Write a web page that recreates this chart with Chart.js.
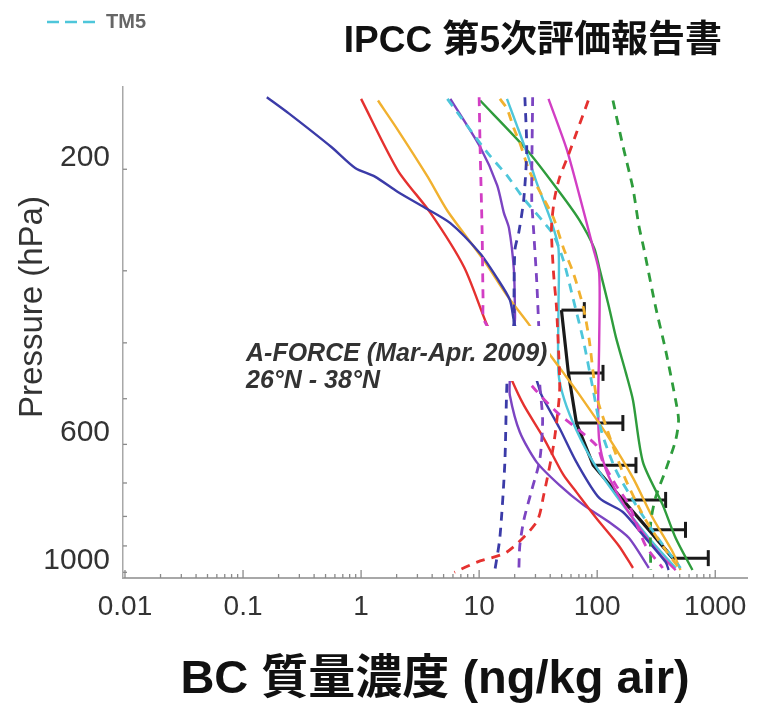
<!DOCTYPE html>
<html><head><meta charset="utf-8">
<script src="https://cdn.jsdelivr.net/npm/chart.js@4"></script>
<style>html,body{margin:0;padding:0;background:#fff}canvas{display:block}</style>
</head><body>
<canvas id="c" width="758" height="704"></canvas>
<script>
// ---- axis ticks ----
const xTickValues = [0.01, 0.1, 1, 10, 100, 1000];
const xTickLabels = ['0.01', '0.1', '1', '10', '100', '1000'];
const pTickValues = [200, 300, 400, 500, 600, 700, 800, 900, 1000];
const pLabelValues = [200, 600, 1000];

// ---- texts ----
const chartTitle = 'IPCC 第5次評価報告書';
const xTitle = 'BC 質量濃度 (ng/kg air)';
const yTitle = 'Pressure (hPa)';
const annotLine1 = 'A-FORCE (Mar-Apr. 2009)';
const annotLine2 = '26°N - 38°N';
const legendLabel = 'TM5';

// ---- model profiles: BC (ng/kg) vs pressure (hPa) ----
const blueX = [0.159,0.244,0.56,0.891,1.31,2.05,3.45,5.7,10.2,14.2,18.2,20.1,25.3,30.7,33.8,47.9,66.7,104,165,244,380,403];
const blueP = [150,160,183,199,206,219,233,248,280,309,337,373,415,464,493,562,644,743,786,862,960,991];

const redX = [1.0,2.05,3.87,7.48,11.7,15.6,18.9,23.9,35.2,51.8,66.7,98.1,153,201];
const redP = [151,201,238,296,373,420,464,513,585,678,726,805,900,983];

const orangeX = [1.39,2.05,3.66,5.38,11.0,17.2,26.8,37.3,51.8,69.2,126,201,296,436,508];
const orangeP = [152,171,206,236,288,331,373,412,451,489,585,686,805,922,991];

const purpleX = [5.70,10.2,14.2,16.2,17.9,19.7,20.1,20.1,18.9,18.2,18.2,22.1,30.7,47.9,76.3,126,186,274];
const purpleP = [151,183,213,238,253,299,351,365,412,464,493,571,644,706,764,818,872,983];

const greenX = [10.2,25.3,47.9,70.7,94.4,104,126,144,175,201,244,359,462,641];
const greenP = [152,185,219,245,274,296,347,391,451,503,644,764,872,991];

const magentaX = [38.7,54.9,70.7,92.5,104,104,102,104,119,159,234,345,462];
const magentaP = [151,184,222,274,303,396,509,590,665,749,844,933,991];

const cyanX = [17.2,20.9,25.3,30.7,41.0,47.0,47.0,47.0,52.8,66.7,92.5,144,274,462];
const cyanP = [151,168,187,211,247,274,347,451,503,567,644,735,872,983];

const tm5X = [5.38,11.7,17.2,23.9,35.2,42.7,51.8,62.9,76.3,92.5,108,144,213,313,508];
const tm5P = [151,187,205,225,247,260,288,337,396,483,567,665,764,862,983];

const blueDashX = [24.4,25.3,23.9,21.7,20.1,19.7,19.7,18.2,17.2,16.5,15.0,13.6];
const blueDashP = [150,185,225,257,276,347,370,412,470,647,869,991];

const purpleDashX = [28.4,27.9,29.0,30.7,31.9,32.6,32.6,34.5,32.6,27.9,23.9,22.1,21.7];
const purpleDashP = [150,225,257,311,370,412,470,544,639,720,812,900,991];

const redDashX = [84.0,66.7,57.0,47.9,43.5,41.0,42.7,45.2,47.9,47.9,42.7,35.2,30.7,17.2,9.61,6.17];
const redDashP = [152,173,189,207,225,253,303,347,451,493,602,735,818,922,960,1000];

const orangeDashX = [15.0,17.2,19.7,22.1,26.8,35.2,42.7,51.8,62.9,76.3,85.7,92.5,98.1,126,175,258,380,508];
const orangeDashP = [151,157,170,180,202,225,243,274,303,347,396,451,493,578,692,812,915,991];

const greenDashX = [136,165,201,225,248,313,380,462,489,462,380,313,284,284];
const greenDashP = [152,182,216,250,274,347,412,503,544,590,665,741,821,991];

const magentaDashX = [10.0,10.2,10.6,10.8,11.0,17.2,29.0,45.2,98.1,112,144,186,258,359];
const magentaDashP = [150,185,257,337,365,420,479,527,602,644,706,764,900,983];

// ---- A-FORCE observations ----
const obsX  = [49.8,57.0,66.7,92.5,165,274,436];
const obsP  = [351,451,551,652,749,844,945];
const obsHi = [77.8,112,165,213,380,560,873];

// ---------------------------------------------------------------
const FONT = "'Liberation Sans', Arial, 'Noto Sans CJK JP', sans-serif";
Chart.defaults.font.family = FONT;

const COL = {navy:'#3b3ba8', red:'#e5312f', orange:'#f1b12f', purple:'#7c44c2',
  magenta:'#d23ec4', green:'#2e9c3c', cyan:'#4ec6da', black:'#1a1a1a'};

function pts(xs, ps){ return xs.map((x,i)=>({x:x, y:ps[i]})); }
function line(label, xs, ps, color, dashed){
  return {label, data: pts(xs, ps), borderColor: color,
    borderWidth: dashed ? 2.8 : 2.4, borderDash: dashed ? [9,7] : [],
    pointRadius: 0, tension: 0.25, fill: false};
}

const datasets = [
  line('magenta dashed', magentaDashX, magentaDashP, COL.magenta, true),
  line('blue dashed', blueDashX, blueDashP, COL.navy, true),
  line('purple dashed', purpleDashX, purpleDashP, COL.purple, true),
  line('red dashed', redDashX, redDashP, COL.red, true),
  line('orange dashed', orangeDashX, orangeDashP, COL.orange, true),
  line('TM5', tm5X, tm5P, COL.cyan, true),
  line('green dashed', greenDashX, greenDashP, COL.green, true),
  line('blue', blueX, blueP, COL.navy, false),
  line('red', redX, redP, COL.red, false),
  line('orange', orangeX, orangeP, COL.orange, false),
  line('purple', purpleX, purpleP, COL.purple, false),
  line('magenta', magentaX, magentaP, COL.magenta, false),
  line('cyan', cyanX, cyanP, COL.cyan, false),
  line('green', greenX, greenP, COL.green, false),
  {label:'A-FORCE', data: pts(obsX, obsP), borderColor: COL.black, borderWidth: 3.2,
   pointRadius: 0, tension: 0, fill: false}
];
obsX.forEach((x,i)=>{
  datasets.push({label:'err'+i, data:[{x:x, y:obsP[i]}, {x:obsHi[i], y:obsP[i]}],
    borderColor: COL.black, borderWidth: 3, tension: 0, fill:false,
    pointRadius:[0,8], pointStyle:'line', rotation:90,
    pointBorderColor: COL.black, pointBorderWidth: 3});
});

// all 1..9 multiples per decade for the log axis tick marks
const xTickList = [];
xTickValues.forEach(d=>{ for(let m=1;m<=9;m++){ const v = Number((m*d).toPrecision(3)); if (v <= 1858) xTickList.push(v); } });

const decor = {
  id: 'decor',
  afterDatasetsDraw(chart){
    const ctx = chart.ctx;
    ctx.save();
    ctx.fillStyle = '#fff';
    ctx.fillRect(236, 326, 314, 55);
    ctx.fillStyle = '#333';
    ctx.font = 'italic bold 25px ' + FONT;
    ctx.textBaseline = 'middle'; ctx.textAlign = 'left';
    ctx.fillText(annotLine1, 246, 354);
    ctx.fillText(annotLine2, 246, 381);
    ctx.restore();
  },
  afterDraw(chart){
    const ctx = chart.ctx, xs = chart.scales.x, ys = chart.scales.y;
    ctx.save();
    // inward tick marks
    ctx.strokeStyle = '#8a8a8a'; ctx.lineWidth = 1.3;
    xs.ticks.forEach(t=>{
      const px = xs.getPixelForValue(t.value);
      const lg = Math.log10(t.value);
      const major = Math.abs(lg - Math.round(lg)) < 1e-6;
      ctx.beginPath(); ctx.moveTo(px, xs.top); ctx.lineTo(px, xs.top - (major ? 8 : 4)); ctx.stroke();
    });
    ys.ticks.forEach(t=>{
      const py = ys.getPixelForValue(t.value);
      ctx.beginPath(); ctx.moveTo(ys.right, py); ctx.lineTo(ys.right + 4, py); ctx.stroke();
    });
    // y title
    ctx.fillStyle = '#333';
    ctx.font = '33px ' + FONT;
    ctx.textAlign = 'center'; ctx.textBaseline = 'middle';
    ctx.translate(33, 307); ctx.rotate(-Math.PI/2);
    ctx.fillText(yTitle, 0, 0);
    ctx.setTransform(1,0,0,1,0,0);
    // chart title
    ctx.fillStyle = '#111';
    ctx.font = 'bold 37px ' + FONT;
    ctx.textAlign = 'right';
    ctx.fillText(chartTitle, 722, 42);
    // legend entry
    ctx.strokeStyle = COL.cyan; ctx.lineWidth = 2.5; ctx.setLineDash([12,6]);
    ctx.beginPath(); ctx.moveTo(47, 22); ctx.lineTo(97, 22); ctx.stroke();
    ctx.setLineDash([]);
    ctx.fillStyle = '#666'; ctx.font = 'bold 20px ' + FONT; ctx.textAlign = 'left';
    ctx.fillText(legendLabel, 106, 22);
    ctx.restore();
  }
};

new Chart(document.getElementById('c'), {
  type: 'line',
  data: { datasets },
  options: {
    responsive: false, animation: false, devicePixelRatio: 1, events: [],
    layout: { padding: { top: 87, right: 1, left: 0, bottom: 0 } },
    plugins: { legend: { display: false }, tooltip: { enabled: false } },
    scales: {
      x: {
        type: 'logarithmic', min: 0.00962, max: 1858,
        afterBuildTicks(s){ s.ticks = xTickList.map(v=>({value:v})); },
        afterFit(s){ s.height = 126; s.paddingLeft = 0; s.paddingRight = 0; },
        ticks: { autoSkip: false, maxRotation: 0, color: '#333', font: { size: 28 }, padding: 12,
          callback(v){ const i = xTickValues.indexOf(v); return i >= 0 ? xTickLabels[i] : ''; } },
        grid: { display: false, drawTicks: false },
        border: { display: true, color: '#a8a8a8', width: 2 },
        title: { display: true, text: xTitle, color: '#111',
          font: { size: 47, weight: 'bold', lineHeight: 1 }, padding: { top: 0, bottom: 0 } }
      },
      y: {
        type: 'logarithmic', reverse: true, min: 144, max: 1023,
        afterBuildTicks(s){ s.ticks = pTickValues.map(v=>({value:v})); },
        afterFit(s){ s.width = 123; s.paddingTop = 0; s.paddingBottom = 0; },
        ticks: { autoSkip: false, color: '#333', font: { size: 30 }, padding: 13, labelOffset: -12,
          callback(v){ return pLabelValues.includes(v) ? String(v) : ''; } },
        grid: { display: false, drawTicks: false },
        border: { display: true, color: '#a8a8a8', width: 1.5 }
      }
    }
  },
  plugins: [decor]
});
</script>
</body></html>
